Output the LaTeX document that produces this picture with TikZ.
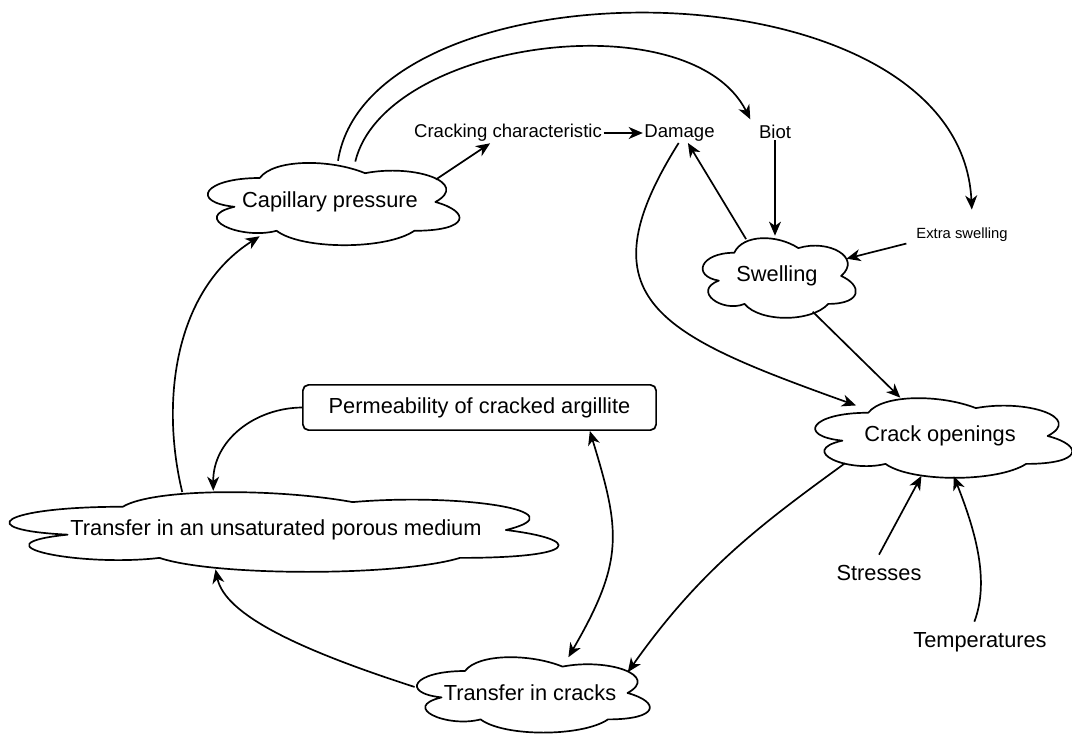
\documentclass[tikz,border=0pt]{standalone}
\usepackage{fontspec}
\setmainfont{Liberation Sans}
\usetikzlibrary{shapes.geometric, arrows.meta, positioning}

% cloud outline drawn round a named node: #1 node, #2 width, #3 height (px)
\newcommand{\drawcloud}[3]{%
  \draw [puffline, shift={(#1.center)}, xscale=#2, yscale=-#3]
    (-.25,-.25) .. controls (-.45,-.25) and (-.5,0) .. (-.34,.05)
    .. controls (-.5,.16) and (-.32,.4) .. (-.19,.3)
    .. controls (-.1,.5) and (.2,.5) .. (.3,.3)
    .. controls (.5,.3) and (.5,.1) .. (.375,0)
    .. controls (.5,-.2) and (.3,-.4) .. (.125,-.3)
    .. controls (0,-.45) and (-.2,-.45) .. (-.25,-.25) -- cycle;}

\begin{document}
\begin{tikzpicture}[
    x=0.025cm, y=0.025cm,
    font=\fontsize{15.5}{18}\selectfont,
    bubble/.style={ellipse, inner sep=0pt},
    puffline/.style={line width=1.2pt, line join=round},
    plain/.style={inner sep=1pt, font=\fontsize{13.2}{15}\selectfont},
    small/.style={inner sep=1pt, font=\fontsize{10.5}{12}\selectfont},
    argbox/.style={rectangle, rounded corners=4pt, draw=black, line width=1.2pt, minimum width=8.83cm, minimum height=1.13cm},
    arrow/.style={line width=1.2pt, -{Stealth[length=10pt, width=8.5pt, inset=3pt]}},
    twoway/.style={line width=1.2pt, {Stealth[length=10pt, width=8.5pt, inset=3pt]}-{Stealth[length=10pt, width=8.5pt, inset=3pt]}}
]
\useasboundingbox (0,0) rectangle (1072,-734);

% clouds
\node (capillary) [bubble, minimum width=6.3cm, minimum height=2.05cm, label=center:{Capillary pressure}] at (330,-202) {};
\node (swelling) [bubble, minimum width=3.83cm, minimum height=2cm, label=center:{Swelling}] at (777,-276) {};
\node (crack) [bubble, minimum width=6.43cm, minimum height=2cm, label=center:{Crack openings}] at (940,-436) {};
\node (unsat) [bubble, minimum width=13.75cm, minimum height=2cm, label=center:{Transfer in an unsaturated porous medium}] at (276,-530) {};
\node (tcracks) [bubble, minimum width=5.83cm, minimum height=1.88cm, label=center:{Transfer in cracks}] at (530,-693) {};
\drawcloud{capillary}{281}{96}
\drawcloud{swelling}{171}{93}
\drawcloud{crack}{287}{93}
\drawcloud{unsat}{613}{93}
\drawcloud{tcracks}{260}{88}

% plain labels
\node (crackchar) [plain] at (508,-133) {Cracking characteristic};
\node (damage) [plain, right=0.98cm of crackchar] {Damage};
\node (biot) [plain] at (775,-132) {Biot};
\node (extraswell) [small] at (962,-235) {Extra swelling};
\node (stresses) at (879,-573) {Stresses};
\node (temps) at (980,-642) {Temperatures};
\node (perm) [argbox] at (479.5,-407.5) {Permeability of cracked argillite};

% links
\draw [arrow] (capillary.12) -- (crackchar.-150);
\draw [arrow] (crackchar) -- (damage);
\draw [arrow] (capillary.79) .. controls (370,43) and (960,43) .. ([shift={(7pt,12pt)}]extraswell.north);
\draw [arrow] (capillary.58) .. controls (385,-40) and (690,0) .. ([shift={(-5pt,3pt)}]biot.north west);
\draw [arrow] (damage.-95) .. controls (580,-300) and (660,-335) .. (crack.160);
\draw [arrow] (swelling.130) -- (damage.-50);
\draw [arrow] (biot.south) -- (biot.south |- swelling.north);
\draw [arrow] ([xshift=-6pt]extraswell.south west) -- (swelling.14);
\draw [arrow] (swelling.-45) -- (crack.136);
\draw [arrow] (crack.196) .. controls (760,-525) and (700,-570) .. (tcracks.12);
\draw [arrow] ([yshift=4pt]stresses.north) -- (crack.-115);
\draw [arrow] ([shift={(-4pt,4pt)}]temps.north) .. controls (990,-580) and (975,-530) .. (crack.-71);
\draw [arrow] (perm.west) .. controls (255,-408) and (213,-440) .. (unsat.148);
\draw [twoway] (perm.-12) .. controls (620,-530) and (625,-560) .. (tcracks.43);
\draw [arrow] (tcracks.177) .. controls (300,-650) and (225,-615) .. (unsat.-147);
\draw [arrow] (unsat.158) .. controls (160,-400) and (175,-290) .. (capillary.206);

\end{tikzpicture}
\end{document}
